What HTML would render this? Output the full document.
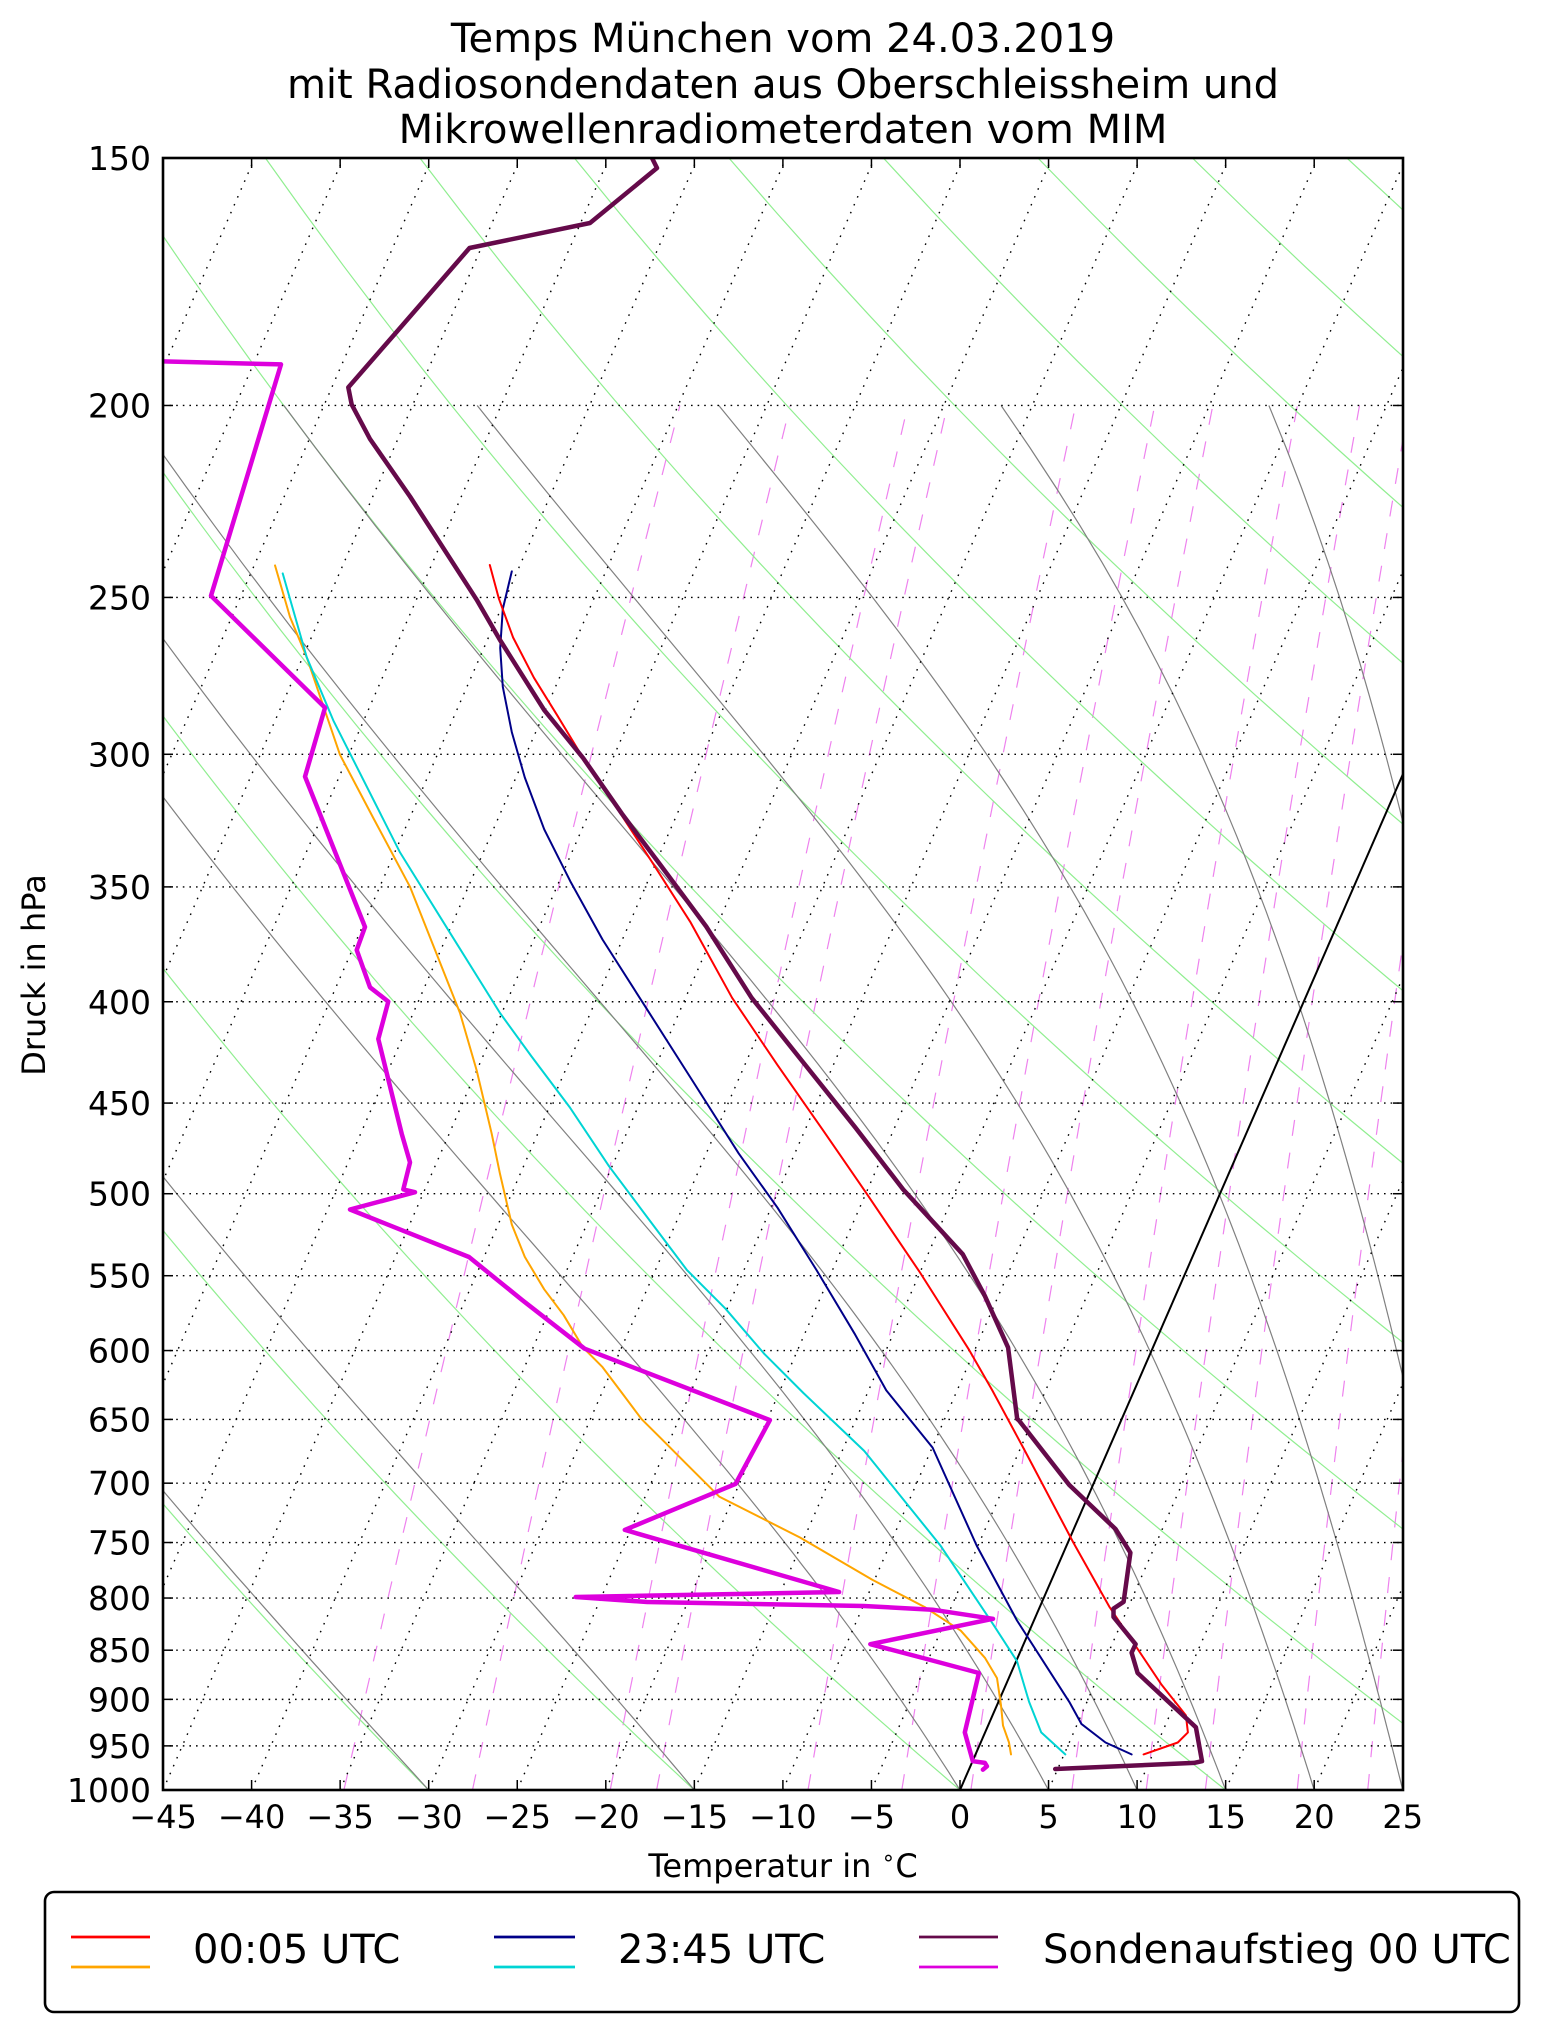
<!DOCTYPE html>
<html><head><meta charset="utf-8">
<style>
html,body{margin:0;padding:0;background:#fff;}
svg{display:block;}
text{font-family:"DejaVu Sans","Liberation Sans",sans-serif;fill:#000;}
</style></head>
<body>
<svg id="s" xmlns="http://www.w3.org/2000/svg" width="1542" height="2032" viewBox="0 0 1542 2032">
<defs><clipPath id="c"><rect x="163" y="158" width="1240" height="1632"/></clipPath></defs>
<rect width="1542" height="2032" fill="#fff"/>
<g id="bg" clip-path="url(#c)"></g>
<g id="data" clip-path="url(#c)" fill="none" stroke-linejoin="round" stroke-linecap="round"></g>
<rect x="163" y="158" width="1240" height="1632" fill="none" stroke="#000" stroke-width="2.6"/>
<g id="ticks" stroke="#000" stroke-width="1.5"></g>
<g id="labels"></g>
<text x="783" y="52" font-size="40" text-anchor="middle">Temps München vom 24.03.2019</text>
<text x="783" y="98" font-size="40" text-anchor="middle">mit Radiosondendaten aus Oberschleissheim und</text>
<text x="783" y="143" font-size="40" text-anchor="middle">Mikrowellenradiometerdaten vom MIM</text>
<text x="783" y="1877" font-size="32" text-anchor="middle">Temperatur in <tspan font-size="22" dy="-12">∘</tspan><tspan dy="12">C</tspan></text>
<text transform="translate(45,975) rotate(-90)" font-size="32" text-anchor="middle">Druck in hPa</text>
<rect x="45" y="1892" width="1474" height="120" rx="9" fill="#fff" stroke="#000" stroke-width="2.6"/>
<g stroke-width="2.8">
<line x1="71" y1="1937" x2="150" y2="1937" stroke="#ff0000"/>
<line x1="71" y1="1967" x2="150" y2="1967" stroke="#ffa500"/>
<line x1="494" y1="1937" x2="575" y2="1937" stroke="#000088"/>
<line x1="494" y1="1967" x2="575" y2="1967" stroke="#00d4d4"/>
<line x1="919" y1="1937" x2="998" y2="1937" stroke="#650a4a"/>
<line x1="919" y1="1967" x2="998" y2="1967" stroke="#dd00dd"/>
</g>
<text x="193" y="1963" font-size="40">00:05 UTC</text>
<text x="618" y="1963" font-size="40">23:45 UTC</text>
<text x="1043" y="1963" font-size="40">Sondenaufstieg 00 UTC</text>
</svg>
<script>
(function(){
var NS="http://www.w3.org/2000/svg";
var L=163,R=1403,T=158,B=1790,H=B-T,T0X=960,SC=17.71,K=0.436;
var LN=Math.log(1000/150);
function Y(p){return B-H*Math.log(1000/p)/LN;}
function X(t,p){return T0X+SC*t+K*(B-Y(p));}
function el(parent,tag,attrs){var e=document.createElementNS(NS,tag);for(var k in attrs)e.setAttribute(k,attrs[k]);parent.appendChild(e);return e;}
function pathStr(pts){return pts.map(function(q,i){return (i?"L":"M")+q[0].toFixed(1)+","+q[1].toFixed(1);}).join("");}
var bg=document.getElementById("bg");
var P=[150,200,250,300,350,400,450,500,550,600,650,700,750,800,850,900,950,1000];
var W=[0.2,0.4,0.8,1,2,3,4,6,8,10,14,18];
W.forEach(function(w){var pts=[];for(var p=1000;p>=200;p-=10){var e=w*p/(622+w);var a=Math.log(e/6.112);var td=243.5*a/(17.67-a);pts.push([X(td,p),Y(p)]);}
el(bg,"path",{d:pathStr(pts),fill:"none",stroke:"#ee82ee","stroke-width":1.2,"stroke-dasharray":"16 17"});});
for(var n=-12;n<=20;n++){var th=-30+15*n+273.15;var pts=[];for(var p=1000;p>=140;p-=10){var t=th*Math.pow(p/1000,0.2857)-273.15;pts.push([X(t,p),Y(p)]);}
el(bg,"path",{d:pathStr(pts),fill:"none",stroke:"#90ee90","stroke-width":1.2});}
function es(tc){return 6.112*Math.exp(17.67*tc/(tc+243.5));}
function dTdp(Tk,p){var eps=0.622,Rd=287.04,Lv=2.501e6,cp=1005.7;var e=es(Tk-273.15);var rs=eps*e/(p-e);
return (1/p)*(Rd*Tk+Lv*rs)/(cp+Lv*Lv*rs*eps/(Rd*Tk*Tk));}
[-45,-30,-15,0,5,10,15,20,25,30,35].forEach(function(t0){var Tk=t0+273.15,p=1000,pts=[[X(t0,p),Y(p)]];var dp=-2;
while(p>200){var k1=dTdp(Tk,p),k2=dTdp(Tk+dp/2*k1,p+dp/2),k3=dTdp(Tk+dp/2*k2,p+dp/2),k4=dTdp(Tk+dp*k3,p+dp);Tk+=dp/6*(k1+2*k2+2*k3+k4);p+=dp;
if(Math.round(p)%10===0)pts.push([X(Tk-273.15,p),Y(p)]);}
el(bg,"path",{d:pathStr(pts),fill:"none",stroke:"#808080","stroke-width":1.2});});
for(var t=-150;t<=40;t+=5){el(bg,"line",{x1:X(t,1000),y1:B,x2:X(t,150),y2:T,stroke:"#000","stroke-width":1.4,"stroke-dasharray":"1.6 7"});}
P.forEach(function(p){el(bg,"line",{x1:L,y1:Y(p),x2:R,y2:Y(p),stroke:"#000","stroke-width":1.4,"stroke-dasharray":"1.6 5"});});
el(bg,"line",{x1:X(0,1000),y1:B,x2:X(0,150),y2:T,stroke:"#000","stroke-width":2});
var tk=document.getElementById("ticks"),lb=document.getElementById("labels");
for(var t=-45;t<=25;t+=5){var x=T0X+SC*t;el(tk,"line",{x1:x,y1:B,x2:x,y2:B-10});el(tk,"line",{x1:x,y1:T,x2:x,y2:T+10});
var tx=el(lb,"text",{x:x,y:1828,"font-size":32,"text-anchor":"middle"});tx.textContent=(t<0?"\u2212"+(-t):""+t);}
P.forEach(function(p){var y=Y(p);el(tk,"line",{x1:L,y1:y,x2:L+10,y2:y});el(tk,"line",{x1:R,y1:y,x2:R-10,y2:y});
var tx=el(lb,"text",{x:151,y:y+12,"font-size":33,"text-anchor":"end"});tx.textContent=""+p;});
var S=1.2958;function M(a){return a.map(function(q){return [q[0]*S,q[1]*S];});}
var dg=document.getElementById("data");
function line(pts,col,w){el(dg,"path",{d:pathStr(pts),stroke:col,"stroke-width":w});}
var orange=[[275,565.4],[290,617],[306.7,657.2],[340,754.8],[373.3,818],[410,886.8],[460,1013],[476.7,1070.5],[491.7,1133.7],[500,1173.9]]
.concat(M([[395,945],[405,970],[420,995],[435,1015],[450,1040],[465,1055],[480,1075],[495,1095],[510,1110],[530,1130],[555,1155]]))
.concat([[800,1537.5],[872.3,1579.8],[924.6,1607],[960.8,1630.7],[984.9,1657.8],[997,1678.1],[1001,1705.3],[1003,1725.6],[1009,1742.5],[1011,1754.4]]);
line(orange,"#ffa500",2);
var cyan=[[282.7,573.4],[306.7,657.2],[333.3,720.4],[400,852.4],[450,932.8],[500,1013]]
.concat(M([[410,815],[440,855],[470,900],[500,940],[530,980],[560,1010],[590,1045],[620,1075]]))
.concat([[864.3,1451],[940.7,1545.9],[992.9,1623.9],[1017,1661.2],[1029.1,1701.9],[1041.2,1732.4],[1065.3,1754.4]]);
line(cyan,"#00d4d4",2);
var navy=M([[395,441],[388,470],[386,500],[388,530],[395,565],[405,600],[420,640],[440,680],[465,725],[500,780],[535,835],[570,890],[600,932],[630,980],[660,1030],[684,1073]])
.concat([[932.6,1447.6],[976.8,1545.9],[1017,1620.5],[1069.3,1701.9],[1081.4,1723.9],[1105.5,1742.5],[1131.6,1754.4]]);
line(navy,"#000088",2);
var red=M([[378,436],[385,462],[396,492],[412,523],[430,552],[450,585],[475,622],[503,665],[533,712],[565,770],[600,822],[635,872],[668,920],[710,982],[748,1042]])
.concat([[992.1,1390],[1025,1451],[1073.3,1542.5],[1109.5,1607],[1161.7,1684.9],[1185.9,1715.4],[1187.9,1732.4],[1177.8,1742.5],[1143.6,1754.4]]);
line(red,"#ff0000",2);
var mag=[[150,361],[281,364.4],[211,595.8],[325,707.7],[305,776.6],[365,927],[356.7,950],[370,987.3],[388.3,1001.6],[378.3,1039],[401.7,1133.7],[410,1162.4],[403.3,1189.4],[415,1192.2],[350,1209.5],[469,1257],[522.1,1300],[584.6,1348.7],[769.9,1420.1],[735.5,1483.9],[624.8,1529.9],[839.1,1592],[575.7,1597],[647.1,1602],[863.7,1606],[932.6,1609.7],[993,1618.8],[870.3,1644.2],[928.6,1659.5],[978.9,1673],[964.8,1732.4],[972.8,1761.2],[984.9,1762.9],[986.9,1766.3],[982.9,1769.7]];
line(mag,"#dd00dd",4.5);
var pur=[[652,158],[657,168],[590,223],[469.5,248],[398.3,330],[348.3,387.4],[351.7,404.6],[370,439],[410,496.5],[476.7,599.8],[500,640]]
.concat(M([[420,548],[450,585],[480,628],[510,668],[545,715],[580,770],[620,820],[660,870],[697,918],[710,932],[743,968],[760,1000],[778,1040],[785,1095]]))
.concat([[1019,1420.5],[1069.3,1485],[1115.5,1529],[1130.4,1552.7],[1123.6,1601.9],[1113.5,1608.6],[1113.5,1617],[1135.6,1644.2],[1131.6,1652.7],[1137.6,1673],[1195.9,1727.3],[1202,1761.2],[1194,1762.9],[1055.2,1769]]);
line(pur,"#650a4a",4.5);
})();
</script>
</body></html>
